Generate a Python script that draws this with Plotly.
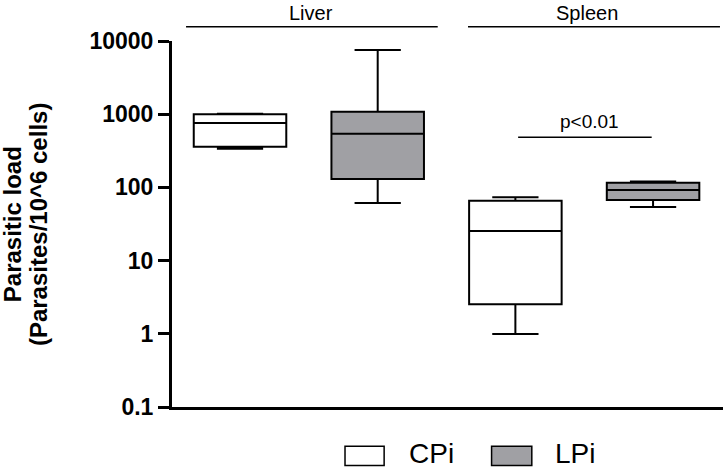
import math
import plotly.graph_objects as go

# ---- data ----
groups = ["Liver", "Spleen"]
positions_cpi = [0, 2]
positions_lpi = [1, 3]

cpi_lower = [338, 0.99]
cpi_q1 = [360, 2.53]
cpi_median = [759, 25.4]
cpi_q3 = [997, 65.8]
cpi_upper = [1016, 73.3]

lpi_lower = [61.2, 54]
lpi_q1 = [130, 67.3]
lpi_median = [542, 92]
lpi_q3 = [1081, 116]
lpi_upper = [7540, 120]

tick_vals = [0.1, 1, 10, 100, 1000, 10000]
tick_text = ["0.1", "1", "10", "100", "1000", "10000"]

series_names = ["CPi", "LPi"]
fill_colors = ["#ffffff", "#a0a0a4"]
sig_label = "p<0.01"
sig_level = 483
FONT = "Arial, Liberation Sans, sans-serif"

fig = go.Figure()
fig.add_trace(go.Box(
    name=series_names[0], x=positions_cpi,
    lowerfence=cpi_lower, q1=cpi_q1, median=cpi_median, q3=cpi_q3, upperfence=cpi_upper,
    fillcolor=fill_colors[0], line=dict(color="black", width=2),
    width=0.672, whiskerwidth=0.5, boxpoints=False, showlegend=False, hoverinfo="skip"))
fig.add_trace(go.Box(
    name=series_names[1], x=positions_lpi,
    lowerfence=lpi_lower, q1=lpi_q1, median=lpi_median, q3=lpi_q3, upperfence=lpi_upper,
    fillcolor=fill_colors[1], line=dict(color="black", width=2),
    width=0.672, whiskerwidth=0.5, boxpoints=False, showlegend=False, hoverinfo="skip"))

shapes = []
annotations = []

# group bars above plot
group_spans = [(-0.392, 1.436), (1.656, 3.486)]
group_text_x = [0.519, 2.52]
for g, (a, b), tx in zip(groups, group_spans, group_text_x):
    shapes.append(dict(type="line", xref="x", yref="paper", x0=a, x1=b, y0=1.039, y1=1.039,
                       line=dict(color="black", width=1.5)))
    annotations.append(dict(text=g, xref="x", yref="paper", x=tx, y=1.076, showarrow=False,
                            xanchor="center", yanchor="middle",
                            font=dict(family=FONT, size=20, color="black")))

# significance bar
shapes.append(dict(type="line", xref="x", yref="y", x0=2.02, x1=2.99, y0=sig_level, y1=sig_level,
                   line=dict(color="black", width=1.5)))
annotations.append(dict(text=sig_label, xref="x", yref="y", x=2.54, y=math.log10(sig_level), yshift=3,
                        showarrow=False, xanchor="center", yanchor="bottom",
                        font=dict(family=FONT, size=19, color="black")))

# y title (two lines)
for txt, px in [("<b>Parasitic load</b>", -0.290), ("<b>(Parasites/10^6 cells)</b>", -0.243)]:
    annotations.append(dict(text=txt, xref="paper", yref="paper", x=px, y=0.5, textangle=-90,
                            showarrow=False, xanchor="center", yanchor="middle",
                            font=dict(family=FONT, size=24, color="black")))

# manual legend
leg_boxes = [(0.314, 0.385), (0.580, 0.653)]
leg_text_x = [0.4265, 0.691]
for name, col, (a, b), tx in zip(series_names, fill_colors, leg_boxes, leg_text_x):
    shapes.append(dict(type="rect", xref="paper", yref="paper", x0=a, x1=b, y0=-0.160, y1=-0.107,
                       fillcolor=col, line=dict(color="black", width=1.5)))
    annotations.append(dict(text=name, xref="paper", yref="paper", x=tx, y=-0.1257,
                            showarrow=False, xanchor="left", yanchor="middle",
                            font=dict(family=FONT, size=28, color="black")))

fig.update_layout(
    width=727, height=471,
    margin=dict(l=172, r=4, t=41, b=64),
    paper_bgcolor="white", plot_bgcolor="white",
    boxmode="overlay",
    shapes=shapes, annotations=annotations,
    xaxis=dict(range=[-0.494, 3.508], showticklabels=False, ticks="", showgrid=False,
               zeroline=False, showline=True, linewidth=3, linecolor="black"),
    yaxis=dict(type="log", range=[-1, 4], tickvals=tick_vals, ticktext=tick_text,
               ticks="outside", ticklen=11, tickwidth=2.5, tickcolor="black",
               showgrid=False, zeroline=False, showline=True, linewidth=3, linecolor="black",
               tickfont=dict(family=FONT, size=23, color="black", weight="bold")),
)

fig.write_html("out.html",
               config={"displayModeBar": False},
               post_script="document.body.style.margin='0';document.body.style.overflow='hidden';")
